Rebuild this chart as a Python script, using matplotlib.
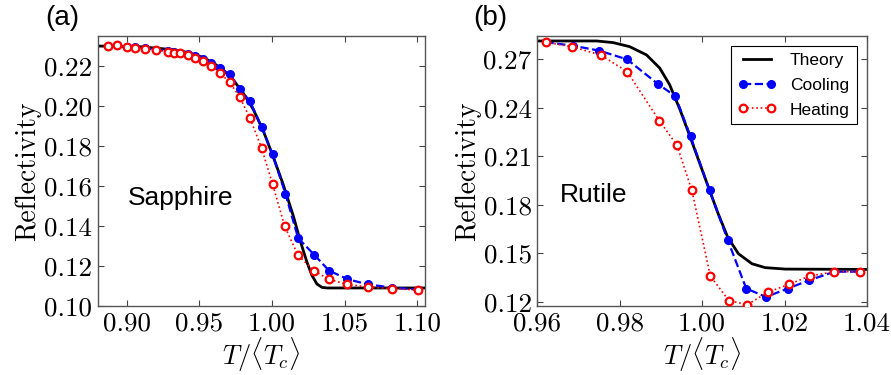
import matplotlib
matplotlib.use("Agg")
import matplotlib.pyplot as plt

plt.rcParams['font.family'] = 'serif'
plt.rcParams['font.serif'] = ['cmr10']
plt.rcParams['mathtext.fontset'] = 'cm'
plt.rcParams['axes.formatter.use_mathtext'] = True

SANS = 'Liberation Sans'

# ---- panel (a): sapphire ----
a_theory_x = [0.880, 0.9085, 0.9316, 0.9431, 0.9524, 0.9593, 0.9662, 0.9731, 0.9800,
              0.9870, 0.9939, 1.0008, 1.0077, 1.0146, 1.0193, 1.0239, 1.0273, 1.0308,
              1.0343, 1.0380, 1.105]
a_theory_y = [0.2298, 0.2295, 0.2280, 0.2264, 0.2241, 0.2215, 0.2179, 0.2130, 0.2064,
              0.1982, 0.1875, 0.1744, 0.1605, 0.1449, 0.1326, 0.1220, 0.1154, 0.1110,
              0.1093, 0.1090, 0.1090]

a_cool_x = [0.8873, 0.8933, 0.8998, 0.9058, 0.9127, 0.9201, 0.9284, 0.9328, 0.9369,
            0.9420, 0.9468, 0.9524, 0.9579, 0.9644, 0.9708, 0.9777, 0.9847, 0.9927,
            1.0003, 1.0091, 1.0179, 1.0289, 1.0391, 1.0518, 1.0659, 1.0822, 1.1002]
a_cool_y = [0.2297, 0.2302, 0.2292, 0.2291, 0.2287, 0.2280, 0.2274, 0.2269, 0.2265,
            0.2257, 0.2248, 0.2232, 0.2212, 0.2187, 0.2157, 0.2084, 0.2023, 0.1895,
            0.1757, 0.1561, 0.1339, 0.1256, 0.1177, 0.1134, 0.1108, 0.1092, 0.1082]

a_heat_x = [0.8873, 0.8933, 0.8998, 0.9058, 0.9127, 0.9201, 0.9284, 0.9328, 0.9369,
            0.9420, 0.9468, 0.9524, 0.9579, 0.9644, 0.9708, 0.9777, 0.9847, 0.9927,
            1.0003, 1.0087, 1.0176, 1.0285, 1.0391, 1.0518, 1.0659, 1.0822, 1.1002]
a_heat_y = [0.2297, 0.2302, 0.2292, 0.2290, 0.2285, 0.2277, 0.2270, 0.2264, 0.2261,
            0.2251, 0.2238, 0.2221, 0.2200, 0.2162, 0.2116, 0.2044, 0.1938, 0.1790,
            0.1608, 0.1397, 0.1256, 0.1177, 0.1133, 0.1108, 0.1095, 0.1087, 0.1080]

a_xticks = [0.90, 0.95, 1.00, 1.05, 1.10]
a_yticks = [0.10, 0.12, 0.14, 0.16, 0.18, 0.20, 0.22]

# ---- panel (b): rutile ----
b_theory_x = [0.960, 0.9744, 0.9784, 0.9824, 0.9865, 0.9897, 0.9921, 0.9946, 0.9970,
              1.0018, 1.0039, 1.0062, 1.0088, 1.0121, 1.0153, 1.0202, 1.0400]
b_theory_y = [0.2812, 0.2812, 0.2802, 0.2777, 0.2726, 0.2645, 0.2543, 0.2390, 0.2226,
              0.1890, 0.1745, 0.1601, 0.1498, 0.1436, 0.1412, 0.1403, 0.1401]

b_cool_x = [0.9620, 0.9686, 0.9751, 0.9818, 0.9892, 0.9935, 0.9972, 1.0018, 1.0062,
            1.0107, 1.0155, 1.0208, 1.0259, 1.0321, 1.0383]
b_cool_y = [0.2804, 0.2783, 0.2752, 0.2698, 0.2548, 0.2471, 0.2222, 0.1890, 0.1584,
            0.1283, 0.1231, 0.1283, 0.1333, 0.1387, 0.1387]

b_heat_x = [0.9620, 0.9684, 0.9754, 0.9818, 0.9896, 0.9939, 0.9975, 1.0020, 1.0065,
            1.0110, 1.0159, 1.0210, 1.0261, 1.0321, 1.0383]
b_heat_y = [0.2804, 0.2777, 0.2725, 0.2623, 0.2320, 0.2168, 0.1890, 0.1360, 0.1208,
            0.1183, 0.1260, 0.1308, 0.1360, 0.1387, 0.1387]

b_xticks = [0.96, 0.98, 1.00, 1.02, 1.04]
b_yticks = [0.12, 0.15, 0.18, 0.21, 0.24, 0.27]

fig = plt.figure(figsize=(8.91, 3.75), dpi=100)
ax1 = fig.add_axes([0.1097, 0.184, 0.367, 0.721])
ax2 = fig.add_axes([0.603, 0.184, 0.370, 0.721])


def draw(ax, tx, ty, cx, cy, hx, hy):
    ax.plot(tx, ty, color='black', lw=2, label='Theory', zorder=2)
    ax.plot(cx, cy, color='blue', ls='--', lw=1.6, marker='o', ms=5.5,
            mfc='blue', mec='blue', label='Cooling', zorder=3)
    ax.plot(hx, hy, color='red', ls=':', lw=1.2, marker='o', ms=5.5,
            mfc='white', mec='red', mew=1.6, label='Heating', zorder=4)
    ax.tick_params(direction='in', top=True, right=True, length=4, width=0.8,
                   labelsize=19.5, color='#444444', pad=4)
    ax.tick_params(axis='x', pad=4)
    for s in ax.spines.values():
        s.set_color('#555555')
        s.set_linewidth(1.0)
    ax.set_ylabel('Reflectivity', fontsize=20, labelpad=2)
    ax.set_xlabel(r'$T/\langle T_c\rangle$', fontsize=19, labelpad=0)


draw(ax1, a_theory_x, a_theory_y, a_cool_x, a_cool_y, a_heat_x, a_heat_y)
ax1.set_xlim(0.880, 1.105)
ax1.set_ylim(0.10, 0.235)
ax1.set_xticks(a_xticks)
ax1.set_xticklabels(['%.2f' % v for v in a_xticks])
ax1.set_yticks(a_yticks)
ax1.set_yticklabels(['%.2f' % v for v in a_yticks])
ax1.text(0.093, 0.40, 'Sapphire', transform=ax1.transAxes, fontsize=19,
         family=SANS, va='center')

draw(ax2, b_theory_x, b_theory_y, b_cool_x, b_cool_y, b_heat_x, b_heat_y)
ax2.set_xlim(0.96, 1.04)
ax2.set_ylim(0.1175, 0.2845)
ax2.set_xticks(b_xticks)
ax2.set_xticklabels(['%.2f' % v for v in b_xticks])
ax2.set_yticks(b_yticks)
ax2.set_yticklabels(['%.2f' % v for v in b_yticks])
ax2.text(0.07, 0.41, 'Rutile', transform=ax2.transAxes, fontsize=19,
         family=SANS, va='center')
leg = ax2.legend(loc='upper right', numpoints=2, fontsize=12.5,
                 prop={'family': SANS, 'size': 12.5}, fancybox=False,
                 framealpha=1, edgecolor='black', handlelength=2.2,
                 borderaxespad=0.6, labelspacing=0.55)
leg.get_frame().set_linewidth(0.8)

fig.text(0.070, 0.951, '(a)', fontsize=20, family=SANS, ha='center', va='center')
fig.text(0.550, 0.951, '(b)', fontsize=20, family=SANS, ha='center', va='center')

fig.savefig('out.png', dpi=100)
